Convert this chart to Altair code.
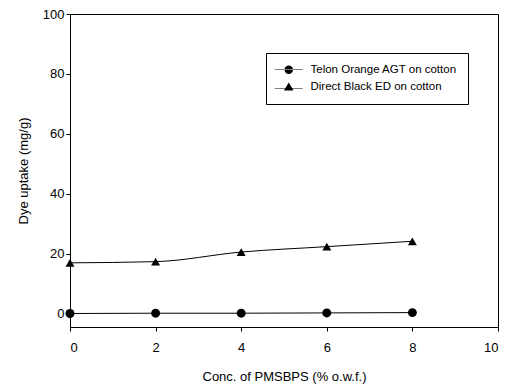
import altair as alt
import pandas as pd

# PMSBPS concentration (% o.w.f.)
conc = [0, 2, 4, 6, 8]
# Dye uptake (mg/g)
telon_orange = [0.1, 0.2, 0.2, 0.3, 0.4]
direct_black = [17.0, 17.4, 20.6, 22.4, 24.2]

series_names = ["Telon Orange AGT on cotton", "Direct Black ED on cotton"]

df = pd.DataFrame({
    "conc": conc * 2,
    "uptake": telon_orange + direct_black,
    "series": [series_names[0]] * len(conc) + [series_names[1]] * len(conc),
})

font = "Liberation Sans"

# legend keys: a thin filled bar (the line) with the marker in the middle
key_circle = ("M-2.8,-0.06H2.8V0.06H-2.8Z"
              "M-0.85,0A0.85,0.85 0 1,0 0.85,0A0.85,0.85 0 1,0 -0.85,0Z")
key_triangle = ("M-2.8,0.24H2.8V0.36H-2.8Z"
                "M0,-0.85L0.95,0.75L-0.95,0.75Z")

x = alt.X("conc:Q", scale=alt.Scale(domain=[0, 10], nice=False),
          axis=alt.Axis(values=[0, 2, 4, 6, 8, 10], title="Conc. of  PMSBPS  (% o.w.f.)",
                        titlePadding=16, labelPadding=10))
y = alt.Y("uptake:Q", scale=alt.Scale(domain=[-4.4, 100], nice=False, zero=False),
          axis=alt.Axis(values=[0, 20, 40, 60, 80, 100], title="Dye uptake  (mg/g)",
                        titlePadding=12))

lines = alt.Chart(df).mark_line(color="black", strokeWidth=1, interpolate="monotone").encode(
    x=x, y=y, detail="series:N"
)

points = alt.Chart(df).mark_point(filled=True, color="black", size=80, opacity=1).encode(
    x=x, y=y,
    shape=alt.Shape("series:N",
                    scale=alt.Scale(domain=series_names, range=["circle", "triangle-up"]),
                    legend=None),
)

legend_layer = alt.Chart(df).transform_filter("false").mark_point(
    filled=True, color="black", size=100, opacity=1
).encode(
    x=x, y=y,
    shape=alt.Shape("series:N",
                    scale=alt.Scale(domain=series_names, range=[key_circle, key_triangle]),
                    legend=alt.Legend(title=None, orient="none", legendX=196, legendY=39,
                                      strokeColor="black", fillColor="white",
                                      padding=11, labelFontSize=11.5, labelFont=font,
                                      symbolFillColor="black", symbolStrokeWidth=0,
                                      symbolSize=100, symbolOpacity=1,
                                      symbolOffset=6, labelOffset=16,
                                      rowPadding=4, labelColor="black")),
)

chart = (lines + points + legend_layer).resolve_scale(shape="independent").properties(
    width=428, height=313,
    padding={"left": 70, "top": 14, "right": 9, "bottom": 62},
    autosize=alt.AutoSizeParams(type="none"),
    background="white",
).configure_view(
    stroke="black", strokeWidth=1
).configure_axis(
    grid=False, domainColor="black", tickColor="black", labelColor="black",
    titleColor="black", labelFont=font, titleFont=font, labelFontSize=13,
    titleFontSize=13, titleFontWeight="normal", tickSize=4
)

chart.save("out.html", embed_options={"renderer": "svg", "actions": False})
